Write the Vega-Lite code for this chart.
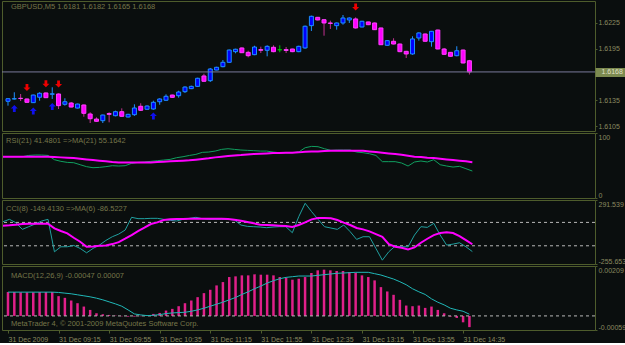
{
  "$schema": "https://vega.github.io/schema/vega-lite/v6.json",
  "background": "#0a0e0e",
  "padding": {"left": -2, "top": 0, "right": -4, "bottom": 0},
  "bounds": "flush",
  "spacing": 2,
  "config": {
    "view": {"stroke": "#4e5c2c", "strokeWidth": 1},
    "axis": {"labelFont": "Liberation Sans", "labelFontSize": 7, "labelColor": "#8a8a60", "domain": false, "grid": false, "tickColor": "#4e5c2c", "tickSize": 2, "labelPadding": 1},
    "text": {"font": "Liberation Sans", "fontSize": 7.5, "color": "#76764a", "align": "left", "baseline": "top"}
  },
  "data": {"values": [
    {"t": "2009-12-31 08:35", "o": 1.61338, "h": 1.61376, "l": 1.61287, "c": 1.61368, "rsi": 63.5, "rma": 63.5, "cci": 106.2, "cma": 71.9, "macd": 0.00100, "sig": 0.000996},
    {"t": "2009-12-31 08:40", "o": 1.61365, "h": 1.61443, "l": 1.61358, "c": 1.61368, "rsi": 63.5, "rma": 63.5, "cci": 126.2, "cma": 74.7, "macd": 0.00100, "sig": 0.000996},
    {"t": "2009-12-31 08:45", "o": 1.61373, "h": 1.61423, "l": 1.61341, "c": 1.61370, "rsi": 63.5, "rma": 63.5, "cci": 97.6, "cma": 80.5, "macd": 0.00099, "sig": 0.000996},
    {"t": "2009-12-31 08:50", "o": 1.61365, "h": 1.61370, "l": 1.61320, "c": 1.61326, "rsi": 63.5, "rma": 63.5, "cci": 40.4, "cma": 86.2, "macd": 0.00099, "sig": 0.000996},
    {"t": "2009-12-31 08:55", "o": 1.61322, "h": 1.61415, "l": 1.61318, "c": 1.61411, "rsi": 65.5, "rma": 63.5, "cci": 63.3, "cma": 89.0, "macd": 0.00099, "sig": 0.000996},
    {"t": "2009-12-31 09:00", "o": 1.61385, "h": 1.61443, "l": 1.61345, "c": 1.61431, "rsi": 66.1, "rma": 63.5, "cci": 86.2, "cma": 89.0, "macd": 0.00100, "sig": 0.000996},
    {"t": "2009-12-31 09:05", "o": 1.61435, "h": 1.61440, "l": 1.61375, "c": 1.61380, "rsi": 66.1, "rma": 63.5, "cci": 111.9, "cma": 89.0, "macd": 0.00100, "sig": 0.000996},
    {"t": "2009-12-31 09:10", "o": 1.61420, "h": 1.61501, "l": 1.61365, "c": 1.61425, "rsi": 65.5, "rma": 63.5, "cci": 126.2, "cma": 89.0, "macd": 0.00100, "sig": 0.000996},
    {"t": "2009-12-31 09:15", "o": 1.61423, "h": 1.61430, "l": 1.61248, "c": 1.61287, "rsi": 58.9, "rma": 63.0, "cci": -151.3, "cma": 49.0, "macd": 0.000827, "sig": 0.000982},
    {"t": "2009-12-31 09:20", "o": 1.61303, "h": 1.61373, "l": 1.61287, "c": 1.61333, "rsi": 56.4, "rma": 62.5, "cci": -108.4, "cma": 26.1, "macd": 0.000757, "sig": 0.000954},
    {"t": "2009-12-31 09:25", "o": 1.61318, "h": 1.61330, "l": 1.61267, "c": 1.61271, "rsi": 54.8, "rma": 62.0, "cci": -108.4, "cma": 6.1, "macd": 0.000645, "sig": 0.000926},
    {"t": "2009-12-31 09:30", "o": 1.61259, "h": 1.61310, "l": 1.61255, "c": 1.61306, "rsi": 54.3, "rma": 61.5, "cci": -96.9, "cma": -31.1, "macd": 0.000532, "sig": 0.000884},
    {"t": "2009-12-31 09:35", "o": 1.61295, "h": 1.61300, "l": 1.61158, "c": 1.61198, "rsi": 51.2, "rma": 60.5, "cci": -122.7, "cma": -65.5, "macd": 0.000392, "sig": 0.000842},
    {"t": "2009-12-31 09:40", "o": 1.61190, "h": 1.61210, "l": 1.61085, "c": 1.61135, "rsi": 48.2, "rma": 59.4, "cci": -159.9, "cma": -108.4, "macd": 0.000251, "sig": 0.000799},
    {"t": "2009-12-31 09:45", "o": 1.61131, "h": 1.61151, "l": 1.61100, "c": 1.61105, "rsi": 46.6, "rma": 58.4, "cci": -122.7, "cma": -105.5, "macd": 0.000111, "sig": 0.000743},
    {"t": "2009-12-31 09:50", "o": 1.61112, "h": 1.61182, "l": 1.61085, "c": 1.61178, "rsi": 47.1, "rma": 57.4, "cci": -94.1, "cma": -99.8, "macd": 0.000069, "sig": 0.000673},
    {"t": "2009-12-31 09:55", "o": 1.61195, "h": 1.61210, "l": 1.61093, "c": 1.61186, "rsi": 48.2, "rma": 56.4, "cci": -54.0, "cma": -96.9, "macd": 0.000041, "sig": 0.000589},
    {"t": "2009-12-31 10:00", "o": 1.61170, "h": 1.61229, "l": 1.61163, "c": 1.61217, "rsi": 49.7, "rma": 55.4, "cci": -22.5, "cma": -85.5, "macd": 0.000013, "sig": 0.000504},
    {"t": "2009-12-31 10:05", "o": 1.61217, "h": 1.61256, "l": 1.61160, "c": 1.61163, "rsi": 49.2, "rma": 54.8, "cci": 0.4, "cma": -68.3, "macd": -0.000015, "sig": 0.000406},
    {"t": "2009-12-31 10:10", "o": 1.61155, "h": 1.61192, "l": 1.61150, "c": 1.61186, "rsi": 49.7, "rma": 54.8, "cci": 34.7, "cma": -39.7, "macd": -0.00003, "sig": 0.000251},
    {"t": "2009-12-31 10:15", "o": 1.61182, "h": 1.61303, "l": 1.61168, "c": 1.61260, "rsi": 53.3, "rma": 54.8, "cci": 143.4, "cma": -8.2, "macd": -0.00003, "sig": 0.000083},
    {"t": "2009-12-31 10:20", "o": 1.61280, "h": 1.61315, "l": 1.61225, "c": 1.61233, "rsi": 54.8, "rma": 54.8, "cci": 132.0, "cma": 26.1, "macd": -0.000015, "sig": 0.000041},
    {"t": "2009-12-31 10:25", "o": 1.61245, "h": 1.61290, "l": 1.61240, "c": 1.61283, "rsi": 55.4, "rma": 54.8, "cci": 132.0, "cma": 54.7, "macd": 0.000013, "sig": 0.000013},
    {"t": "2009-12-31 10:30", "o": 1.61248, "h": 1.61345, "l": 1.61240, "c": 1.61326, "rsi": 56.4, "rma": 54.8, "cci": 134.8, "cma": 86.2, "macd": 0.000083, "sig": 0.000027},
    {"t": "2009-12-31 10:35", "o": 1.61333, "h": 1.61373, "l": 1.61298, "c": 1.61365, "rsi": 57.4, "rma": 55.4, "cci": 134.8, "cma": 100.5, "macd": 0.000125, "sig": 0.000055},
    {"t": "2009-12-31 10:40", "o": 1.61350, "h": 1.61419, "l": 1.61341, "c": 1.61396, "rsi": 58.4, "rma": 55.9, "cci": 126.2, "cma": 120.5, "macd": 0.000224, "sig": 0.000097},
    {"t": "2009-12-31 10:45", "o": 1.61411, "h": 1.61415, "l": 1.61380, "c": 1.61384, "rsi": 59.4, "rma": 56.4, "cci": 117.7, "cma": 126.2, "macd": 0.000294, "sig": 0.000125},
    {"t": "2009-12-31 10:50", "o": 1.61403, "h": 1.61461, "l": 1.61380, "c": 1.61446, "rsi": 62.0, "rma": 56.9, "cci": 111.9, "cma": 129.1, "macd": 0.000406, "sig": 0.000139},
    {"t": "2009-12-31 10:55", "o": 1.61450, "h": 1.61512, "l": 1.61435, "c": 1.61504, "rsi": 63.5, "rma": 57.4, "cci": 126.2, "cma": 129.1, "macd": 0.000532, "sig": 0.000153},
    {"t": "2009-12-31 11:00", "o": 1.61485, "h": 1.61520, "l": 1.61480, "c": 1.61512, "rsi": 65.5, "rma": 57.9, "cci": 134.8, "cma": 132.0, "macd": 0.000645, "sig": 0.000195},
    {"t": "2009-12-31 11:05", "o": 1.61512, "h": 1.61612, "l": 1.61506, "c": 1.61606, "rsi": 67.1, "rma": 58.9, "cci": 143.4, "cma": 132.0, "macd": 0.000785, "sig": 0.000251},
    {"t": "2009-12-31 11:10", "o": 1.61633, "h": 1.61659, "l": 1.61566, "c": 1.61571, "rsi": 70.2, "rma": 59.9, "cci": 132.0, "cma": 132.0, "macd": 0.000954, "sig": 0.000322},
    {"t": "2009-12-31 11:15", "o": 1.61578, "h": 1.61726, "l": 1.61563, "c": 1.61714, "rsi": 70.7, "rma": 61.0, "cci": 126.2, "cma": 132.0, "macd": 0.001094, "sig": 0.000406},
    {"t": "2009-12-31 11:20", "o": 1.61702, "h": 1.61740, "l": 1.61700, "c": 1.61734, "rsi": 72.2, "rma": 62.5, "cci": 126.2, "cma": 132.0, "macd": 0.001277, "sig": 0.00049},
    {"t": "2009-12-31 11:25", "o": 1.61741, "h": 1.61819, "l": 1.61734, "c": 1.61792, "rsi": 74.8, "rma": 63.5, "cci": 126.2, "cma": 132.0, "macd": 0.001417, "sig": 0.000574},
    {"t": "2009-12-31 11:30", "o": 1.61792, "h": 1.61940, "l": 1.61785, "c": 1.61935, "rsi": 75.8, "rma": 64.5, "cci": 126.2, "cma": 129.1, "macd": 0.001628, "sig": 0.000673},
    {"t": "2009-12-31 11:35", "o": 1.61916, "h": 1.61950, "l": 1.61897, "c": 1.61944, "rsi": 74.8, "rma": 65.5, "cci": 120.5, "cma": 123.4, "macd": 0.001656, "sig": 0.000771},
    {"t": "2009-12-31 11:40", "o": 1.61959, "h": 1.61965, "l": 1.61900, "c": 1.61904, "rsi": 73.8, "rma": 66.1, "cci": 77.6, "cma": 114.8, "macd": 0.001698, "sig": 0.000898},
    {"t": "2009-12-31 11:45", "o": 1.61908, "h": 1.61927, "l": 1.61850, "c": 1.61869, "rsi": 73.3, "rma": 67.1, "cci": 66.2, "cma": 103.4, "macd": 0.001698, "sig": 0.00101},
    {"t": "2009-12-31 11:50", "o": 1.61881, "h": 1.61985, "l": 1.61875, "c": 1.61970, "rsi": 72.8, "rma": 67.6, "cci": 63.3, "cma": 91.9, "macd": 0.00174, "sig": 0.001137},
    {"t": "2009-12-31 11:55", "o": 1.61940, "h": 1.61974, "l": 1.61900, "c": 1.61932, "rsi": 72.2, "rma": 68.1, "cci": 60.4, "cma": 80.5, "macd": 0.001726, "sig": 0.001249},
    {"t": "2009-12-31 12:00", "o": 1.61932, "h": 1.61990, "l": 1.61862, "c": 1.61978, "rsi": 72.2, "rma": 68.6, "cci": 54.7, "cma": 77.6, "macd": 0.001726, "sig": 0.001375},
    {"t": "2009-12-31 12:05", "o": 1.61967, "h": 1.61990, "l": 1.61909, "c": 1.61916, "rsi": 70.7, "rma": 69.1, "cci": 60.4, "cma": 74.7, "macd": 0.001698, "sig": 0.001474},
    {"t": "2009-12-31 12:10", "o": 1.61938, "h": 1.61990, "l": 1.61909, "c": 1.61938, "rsi": 69.7, "rma": 69.1, "cci": 63.3, "cma": 71.9, "macd": 0.001628, "sig": 0.001558},
    {"t": "2009-12-31 12:15", "o": 1.61940, "h": 1.61970, "l": 1.61900, "c": 1.61930, "rsi": 69.7, "rma": 69.7, "cci": 63.3, "cma": 69.0, "macd": 0.0016, "sig": 0.001614},
    {"t": "2009-12-31 12:20", "o": 1.61947, "h": 1.61950, "l": 1.61910, "c": 1.61916, "rsi": 69.7, "rma": 69.7, "cci": 11.8, "cma": 60.4, "macd": 0.001516, "sig": 0.001642},
    {"t": "2009-12-31 12:25", "o": 1.61916, "h": 1.61985, "l": 1.61910, "c": 1.61978, "rsi": 70.7, "rma": 70.2, "cci": 149.1, "cma": 77.6, "macd": 0.001558, "sig": 0.00167},
    {"t": "2009-12-31 12:30", "o": 1.61959, "h": 1.62220, "l": 1.61950, "c": 1.62212, "rsi": 77.4, "rma": 71.2, "cci": 263.6, "cma": 100.5, "macd": 0.001628, "sig": 0.00167},
    {"t": "2009-12-31 12:35", "o": 1.62219, "h": 1.62335, "l": 1.62157, "c": 1.62328, "rsi": 79.4, "rma": 71.7, "cci": 192.0, "cma": 126.2, "macd": 0.001796, "sig": 0.00167},
    {"t": "2009-12-31 12:40", "o": 1.62316, "h": 1.62320, "l": 1.62280, "c": 1.62285, "rsi": 78.9, "rma": 71.7, "cci": 126.2, "cma": 137.7, "macd": 0.001909, "sig": 0.001698},
    {"t": "2009-12-31 12:45", "o": 1.62288, "h": 1.62295, "l": 1.62102, "c": 1.62250, "rsi": 75.8, "rma": 72.2, "cci": 63.3, "cma": 137.7, "macd": 0.001937, "sig": 0.001726},
    {"t": "2009-12-31 12:50", "o": 1.62250, "h": 1.62277, "l": 1.62180, "c": 1.62245, "rsi": 73.3, "rma": 72.8, "cci": 51.9, "cma": 134.8, "macd": 0.001909, "sig": 0.001754},
    {"t": "2009-12-31 12:55", "o": 1.62219, "h": 1.62255, "l": 1.62172, "c": 1.62250, "rsi": 73.8, "rma": 72.8, "cci": 40.4, "cma": 120.5, "macd": 0.001881, "sig": 0.001783},
    {"t": "2009-12-31 13:00", "o": 1.62250, "h": 1.62343, "l": 1.62230, "c": 1.62308, "rsi": 73.8, "rma": 72.8, "cci": 77.6, "cma": 97.6, "macd": 0.001881, "sig": 0.001796},
    {"t": "2009-12-31 13:05", "o": 1.62285, "h": 1.62315, "l": 1.62250, "c": 1.62308, "rsi": 73.8, "rma": 72.8, "cci": 20.4, "cma": 77.6, "macd": 0.001839, "sig": 0.001811},
    {"t": "2009-12-31 13:10", "o": 1.62297, "h": 1.62316, "l": 1.62185, "c": 1.62192, "rsi": 70.7, "rma": 72.8, "cci": -45.4, "cma": 51.9, "macd": 0.001811, "sig": 0.001825},
    {"t": "2009-12-31 13:15", "o": 1.62203, "h": 1.62275, "l": 1.62200, "c": 1.62270, "rsi": 69.7, "rma": 72.8, "cci": -22.5, "cma": 40.4, "macd": 0.001698, "sig": 0.001825},
    {"t": "2009-12-31 13:20", "o": 1.62262, "h": 1.62265, "l": 1.62225, "c": 1.62230, "rsi": 68.1, "rma": 71.7, "cci": -22.5, "cma": 23.2, "macd": 0.001628, "sig": 0.001825},
    {"t": "2009-12-31 13:25", "o": 1.62250, "h": 1.62255, "l": 1.62168, "c": 1.62172, "rsi": 65.5, "rma": 70.7, "cci": -122.7, "cma": 0.4, "macd": 0.001488, "sig": 0.001769},
    {"t": "2009-12-31 13:30", "o": 1.62192, "h": 1.62195, "l": 1.61994, "c": 1.61997, "rsi": 55.9, "rma": 69.7, "cci": -222.8, "cma": -22.5, "macd": 0.001206, "sig": 0.001712},
    {"t": "2009-12-31 13:35", "o": 1.61990, "h": 1.62050, "l": 1.61985, "c": 1.62044, "rsi": 55.9, "rma": 68.6, "cci": -151.3, "cma": -85.5, "macd": 0.001024, "sig": 0.001628},
    {"t": "2009-12-31 13:40", "o": 1.62037, "h": 1.62072, "l": 1.62000, "c": 1.62005, "rsi": 55.9, "rma": 67.6, "cci": -102.6, "cma": -108.4, "macd": 0.000884, "sig": 0.001544},
    {"t": "2009-12-31 13:45", "o": 1.62005, "h": 1.62010, "l": 1.61910, "c": 1.61916, "rsi": 53.8, "rma": 66.6, "cci": -108.4, "cma": -117.0, "macd": 0.000673, "sig": 0.001432},
    {"t": "2009-12-31 13:50", "o": 1.61920, "h": 1.61925, "l": 1.61842, "c": 1.61889, "rsi": 49.2, "rma": 65.0, "cci": -108.4, "cma": -131.3, "macd": 0.000434, "sig": 0.001305},
    {"t": "2009-12-31 13:55", "o": 1.61889, "h": 1.62095, "l": 1.61880, "c": 1.62064, "rsi": 55.4, "rma": 63.5, "cci": -8.2, "cma": -114.1, "macd": 0.000406, "sig": 0.001137},
    {"t": "2009-12-31 14:00", "o": 1.62075, "h": 1.62140, "l": 1.62044, "c": 1.62134, "rsi": 56.9, "rma": 63.0, "cci": 63.3, "cma": -74.0, "macd": 0.000434, "sig": 0.00101},
    {"t": "2009-12-31 14:05", "o": 1.62122, "h": 1.62127, "l": 1.62033, "c": 1.62037, "rsi": 55.4, "rma": 62.0, "cci": 57.5, "cma": -39.7, "macd": 0.000336, "sig": 0.000898},
    {"t": "2009-12-31 14:10", "o": 1.62032, "h": 1.62157, "l": 1.61974, "c": 1.62153, "rsi": 58.9, "rma": 61.5, "cci": 91.9, "cma": -8.2, "macd": 0.000392, "sig": 0.000715},
    {"t": "2009-12-31 14:15", "o": 1.62168, "h": 1.62172, "l": 1.61943, "c": 1.61947, "rsi": 51.2, "rma": 60.5, "cci": -8.2, "cma": 9.0, "macd": 0.000251, "sig": 0.000574},
    {"t": "2009-12-31 14:20", "o": 1.61947, "h": 1.61959, "l": 1.61880, "c": 1.61885, "rsi": 49.2, "rma": 59.4, "cci": -94.1, "cma": 14.7, "macd": 0.000111, "sig": 0.000462},
    {"t": "2009-12-31 14:25", "o": 1.61908, "h": 1.61912, "l": 1.61858, "c": 1.61862, "rsi": 47.6, "rma": 58.4, "cci": -85.5, "cma": 9.0, "macd": -0.00003, "sig": 0.000322},
    {"t": "2009-12-31 14:30", "o": 1.61869, "h": 1.61979, "l": 1.61862, "c": 1.61927, "rsi": 48.7, "rma": 57.4, "cci": -74.0, "cma": -16.8, "macd": -0.000086, "sig": 0.000251},
    {"t": "2009-12-31 14:35", "o": 1.61935, "h": 1.61940, "l": 1.61780, "c": 1.61784, "rsi": 45.1, "rma": 56.4, "cci": -108.4, "cma": -51.1, "macd": -0.000268, "sig": 0.000195},
    {"t": "2009-12-31 14:40", "o": 1.6181, "h": 1.6182, "l": 1.6165, "c": 1.6168, "rsi": 41.4801, "rma": 55.1642, "cci": -149.413, "cma": -86.5227, "macd": -0.00047, "sig": 0.00007}
  ]},
  "vconcat": [
    {
      "width": 593, "height": 130,
      "resolve": {"axis": {"y": "independent"}},
      "layer": [
        {
          "mark": {"type": "rule", "strokeWidth": 1, "clip": true},
          "encoding": {
            "x": {"field": "t", "type": "temporal", "scale": {"domain": [{"year": 2009, "month": 12, "date": 31, "hours": 8, "minutes": 34, "seconds": 13}, {"year": 2009, "month": 12, "date": 31, "hours": 16, "minutes": 15, "seconds": 23}], "nice": false}, "axis": null},
            "y": {"field": "l", "type": "quantitative", "scale": {"domain": [1.60992, 1.62506], "zero": false, "nice": false}, "axis": {"orient": "right", "values": [1.6105, 1.6135, 1.6195, 1.6225], "format": ".4f", "title": null}},
            "y2": {"field": "h"},
            "color": {"condition": [{"test": "datum.c > datum.o", "value": "#1e90ff"}, {"test": "datum.c == datum.o", "value": "#00c000"}], "value": "#c03090"}
          }
        },
        {
          "mark": {"type": "bar", "width": 4, "strokeWidth": 1, "clip": true},
          "encoding": {
            "x": {"field": "t", "type": "temporal"},
            "y": {"field": "o", "type": "quantitative", "axis": null},
            "y2": {"field": "c"},
            "fill": {"condition": [{"test": "datum.c > datum.o", "value": "#0000ff"}, {"test": "datum.c == datum.o", "value": "#00c000"}], "value": "#ff00ff"},
            "stroke": {"condition": [{"test": "datum.c > datum.o", "value": "#1e90ff"}, {"test": "datum.c == datum.o", "value": "#00c000"}], "value": "#ff40ff"}
          }
        },
        {
          "data": {"values": [
            {"t": "2009-12-31 08:50", "p": 1.6150, "dir": "down"},
            {"t": "2009-12-31 09:05", "p": 1.61543, "dir": "down"},
            {"t": "2009-12-31 09:15", "p": 1.6154, "dir": "down"},
            {"t": "2009-12-31 13:10", "p": 1.62436, "dir": "down"},
            {"t": "2009-12-31 08:40", "p": 1.61254, "dir": "up"},
            {"t": "2009-12-31 08:55", "p": 1.61225, "dir": "up"},
            {"t": "2009-12-31 09:10", "p": 1.61277, "dir": "up"},
            {"t": "2009-12-31 10:30", "p": 1.61166, "dir": "up"}
          ]},
          "mark": {"type": "point", "filled": true, "opacity": 1, "size": 49, "clip": true, "shape": "M-0.4,-1L0.4,-1L0.4,0L1,0L0,1L-1,0L-0.4,0Z"},
          "encoding": {
            "x": {"field": "t", "type": "temporal"},
            "y": {"field": "p", "type": "quantitative", "axis": null},
            "angle": {"condition": {"test": "datum.dir == 'up'", "value": 180}, "value": 0},
            "color": {"condition": {"test": "datum.dir == 'up'", "value": "#1010ee"}, "value": "#ee0000"}
          }
        },
        {
          "data": {"values": [{"bid": 1.6168}]},
          "mark": {"type": "rule", "color": "#7a7a9a", "strokeWidth": 1},
          "encoding": {
            "y": {"field": "bid", "type": "quantitative", "axis": {"orient": "right", "values": [1.6168], "format": ".4f", "title": null, "tickSize": 30, "tickWidth": 9, "tickColor": "#7c8a50", "tickCap": "butt", "labelPadding": -24, "labelColor": "#e0e0c8"}}
          }
        },
        {
          "data": {"values": [{"label": "GBPUSD,M5  1.6181 1.6182 1.6165 1.6168", "t": "2009-12-31 08:34:13", "v": 1.62506}]},
          "mark": {"type": "text", "dx": 4, "dy": 2},
          "encoding": {
            "x": {"field": "t", "type": "temporal"},
            "y": {"field": "v", "type": "quantitative", "axis": null},
            "text": {"field": "label"}
          }
        }
      ]
    },
    {
      "width": 593, "height": 65,
      "layer": [
        {
          "mark": {"type": "line", "color": "#10a060", "strokeWidth": 1},
          "encoding": {
            "x": {"field": "t", "type": "temporal", "scale": {"domain": [{"year": 2009, "month": 12, "date": 31, "hours": 8, "minutes": 34, "seconds": 13}, {"year": 2009, "month": 12, "date": 31, "hours": 16, "minutes": 15, "seconds": 23}], "nice": false}, "axis": null},
            "y": {"field": "rsi", "type": "quantitative", "scale": {"domain": [0, 100], "nice": false}, "axis": {"orient": "right", "values": [0, 100], "labelFlush": true, "title": null}}
          }
        },
        {
          "mark": {"type": "line", "color": "#ff00ff", "strokeWidth": 2},
          "encoding": {
            "x": {"field": "t", "type": "temporal"},
            "y": {"field": "rma", "type": "quantitative"}
          }
        },
        {
          "data": {"values": [{"label": "RSI(21) 41.4801  =>MA(21) 55.1642", "t": "2009-12-31 08:34:13", "v": 100}]},
          "mark": {"type": "text", "dx": 4, "dy": 4},
          "encoding": {
            "x": {"field": "t", "type": "temporal"},
            "y": {"field": "v", "type": "quantitative"},
            "text": {"field": "label"}
          }
        }
      ]
    },
    {
      "width": 593, "height": 64,
      "layer": [
        {
          "data": {"values": [{"lvl": 100}, {"lvl": -100}]},
          "mark": {"type": "rule", "color": "#b8b8b8", "strokeWidth": 1, "strokeDash": [3, 3]},
          "encoding": {
            "y": {"field": "lvl", "type": "quantitative", "scale": {"domain": [-255.653, 291.539], "nice": false, "zero": false}, "axis": {"orient": "right", "values": [291.539, 100, 0, -100, -255.653], "labelFlush": true, "title": null, "labelExpr": "datum.value > 200 ? '291.539' : datum.value > 50 ? '100' : datum.value > -50 ? '0.00' : datum.value > -200 ? '-100' : '-255.653'"}}
          }
        },
        {
          "mark": {"type": "line", "color": "#20a0a0", "strokeWidth": 1},
          "encoding": {
            "x": {"field": "t", "type": "temporal", "scale": {"domain": [{"year": 2009, "month": 12, "date": 31, "hours": 8, "minutes": 34, "seconds": 13}, {"year": 2009, "month": 12, "date": 31, "hours": 16, "minutes": 15, "seconds": 23}], "nice": false}, "axis": null},
            "y": {"field": "cci", "type": "quantitative"}
          }
        },
        {
          "mark": {"type": "line", "color": "#ff00ff", "strokeWidth": 2},
          "encoding": {
            "x": {"field": "t", "type": "temporal"},
            "y": {"field": "cma", "type": "quantitative"}
          }
        },
        {
          "data": {"values": [{"label": "CCI(8) -149.4130  =>MA(6) -86.5227", "t": "2009-12-31 08:34:13", "v": 291.539}]},
          "mark": {"type": "text", "dx": 4, "dy": 5},
          "encoding": {
            "x": {"field": "t", "type": "temporal"},
            "y": {"field": "v", "type": "quantitative"},
            "text": {"field": "label"}
          }
        }
      ]
    },
    {
      "width": 593, "height": 64,
      "layer": [
        {
          "mark": {"type": "bar", "width": 2.5, "color": "#e0208a"},
          "encoding": {
            "x": {"field": "t", "type": "temporal", "scale": {"domain": [{"year": 2009, "month": 12, "date": 31, "hours": 8, "minutes": 34, "seconds": 13}, {"year": 2009, "month": 12, "date": 31, "hours": 16, "minutes": 15, "seconds": 23}], "nice": false},
              "axis": {"orient": "bottom", "title": null, "values": [
                {"year": 2009, "month": 12, "date": 31, "hours": 8, "minutes": 35},
                {"year": 2009, "month": 12, "date": 31, "hours": 9, "minutes": 15},
                {"year": 2009, "month": 12, "date": 31, "hours": 9, "minutes": 55},
                {"year": 2009, "month": 12, "date": 31, "hours": 10, "minutes": 35},
                {"year": 2009, "month": 12, "date": 31, "hours": 11, "minutes": 15},
                {"year": 2009, "month": 12, "date": 31, "hours": 11, "minutes": 55},
                {"year": 2009, "month": 12, "date": 31, "hours": 12, "minutes": 35},
                {"year": 2009, "month": 12, "date": 31, "hours": 13, "minutes": 15},
                {"year": 2009, "month": 12, "date": 31, "hours": 13, "minutes": 55},
                {"year": 2009, "month": 12, "date": 31, "hours": 14, "minutes": 35}
              ], "labelExpr": "hours(datum.value) == 8 ? '31 Dec 2009' : timeFormat(datum.value, '31 Dec %H:%M')", "labelAlign": "left", "labelBaseline": "top", "labelFlush": false, "labelOverlap": false, "tickSize": 3, "labelPadding": 2}},
            "y": {"field": "macd", "type": "quantitative", "scale": {"domain": [-0.00059, 0.00209], "nice": false}, "axis": {"orient": "right", "values": [0.00209, 0, -0.00059], "labelFlush": true, "title": null, "labelExpr": "datum.value > 0.001 ? '0.00209' : datum.value > -0.0003 ? '0.00' : '-0.00059'"}},
            "y2": {"datum": 0}
          }
        },
        {
          "data": {"values": [{"z": 0}]},
          "mark": {"type": "rule", "color": "#b8b8b8", "strokeWidth": 1, "strokeDash": [3, 3]},
          "encoding": {
            "y": {"field": "z", "type": "quantitative"}
          }
        },
        {
          "mark": {"type": "line", "color": "#20b8b8", "strokeWidth": 1},
          "encoding": {
            "x": {"field": "t", "type": "temporal"},
            "y": {"field": "sig", "type": "quantitative"}
          }
        },
        {
          "data": {"values": [{"label": "MACD(12,26,9) -0.00047 0.00007", "t": "2009-12-31 08:34:13", "v": 0.00209}]},
          "mark": {"type": "text", "dx": 4, "dy": 6},
          "encoding": {
            "x": {"field": "t", "type": "temporal"},
            "y": {"field": "v", "type": "quantitative"},
            "text": {"field": "label"}
          }
        },
        {
          "data": {"values": [{"label": "MetaTrader 4, © 2001-2009 MetaQuotes Software Corp.", "t": "2009-12-31 08:34:13", "v": -0.00017}]},
          "mark": {"type": "text", "dx": 4, "dy": 0},
          "encoding": {
            "x": {"field": "t", "type": "temporal"},
            "y": {"field": "v", "type": "quantitative"},
            "text": {"field": "label"}
          }
        }
      ]
    }
  ]
}
